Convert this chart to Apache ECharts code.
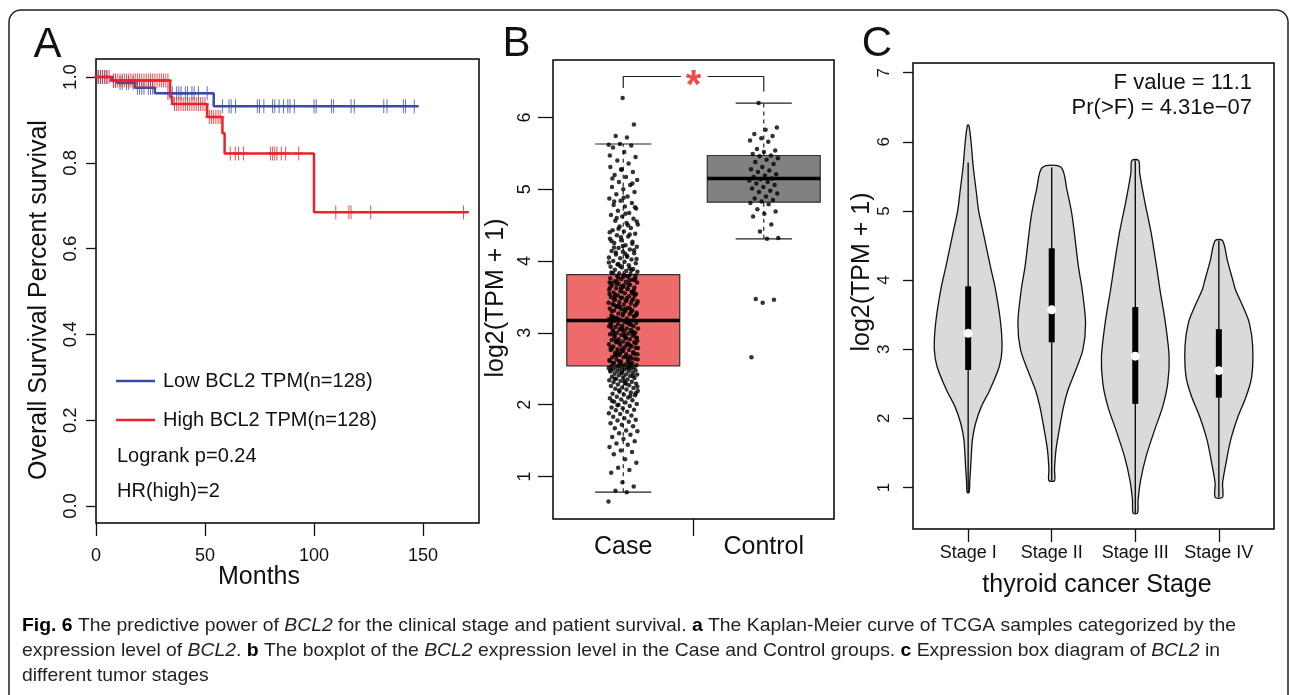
<!DOCTYPE html>
<html><head><meta charset="utf-8">
<script src="https://cdn.jsdelivr.net/npm/echarts@6/dist/echarts.min.js"></script>
<style>html,body{margin:0;padding:0;background:#fff}#c{width:1290px;height:695px}</style>
</head><body><div id="c"></div>
<script>
// ================= DATA =================
// Panel A : Kaplan-Meier (months, survival)
const kmLowSteps  = [[0,1.0],[7.5,0.991],[10,0.986],[18,0.975],[27,0.962],[54,0.932],[148,0.932]];
const kmHighSteps = [[0,1.0],[7,0.992],[34,0.954],[35,0.937],[51,0.907],[58,0.869],[59,0.822],[100,0.685],[171,0.685]];
const kmLowCensor  = [1,2,3,4,5,8,9,11,12,14,15,17,19,20,21,22,24,25,26,33,34,35,37,38,39,41,42,44,45,47,51,
                      58,61,62,64,74,75,77,81,82,84,86,88,89,91,100,101,108,109,117,118.5,132,133.5,141,142,146];
const kmHighCensor = [1,2,3,4,5,6,8,9,10,11,12,13,14,15,16,17,18,19,20,21,22,23,24,25,26,27,28,29,30,31,32,33,
                      36,37,38,39,40,41,42,43,44,45,46,47,48,49,50,52,53,54,55,56,57,
                      61.6,63.9,65.4,67.7,80,81,82,83,85,87,93,110,116,117,126,168.6];
const kmSeriesNames = ['Low BCL2 TPM(n=128)','High BCL2 TPM(n=128)'];
const kmStats = ['Logrank p=0.24','HR(high)=2'];
const kmXTicks = [0,50,100,150];
const kmYTicks = [0,0.2,0.4,0.6,0.8,1.0];

// Panel B : boxplot  [min, Q1, median, Q3, max]
const groupNames = ['Case','Control'];
const groupStats = [[0.78,2.54,3.17,3.81,5.63],[4.31,4.82,5.15,5.47,6.20]];
const caseValues = [
 0.65,0.78,0.80,0.86,0.92,1.05,1.09,1.12,1.19,1.24,1.31,1.34,1.36,1.41,1.44,1.46,1.49,1.52,1.55,1.58,
 1.60,1.63,1.64,1.67,1.70,1.72,1.74,1.76,1.78,1.79,1.81,1.83,1.85,1.87,1.88,1.90,1.92,1.93,1.95,1.96,
 1.98,2.00,2.01,2.03,2.04,2.06,2.07,2.09,2.10,2.11,2.13,2.14,2.15,2.17,2.18,2.19,2.21,2.22,2.23,2.24,
 2.26,2.27,2.28,2.29,2.30,2.31,2.32,2.33,2.34,2.35,2.36,2.37,2.38,2.39,2.40,2.41,2.42,2.42,2.43,2.44,
 2.45,2.46,2.46,2.47,2.48,2.49,2.49,2.50,2.50,2.51,2.51,2.52,2.52,2.53,2.53,2.54,2.54,
 2.55,2.56,2.58,2.58,2.60,2.61,2.61,2.63,2.64,2.66,2.66,2.67,2.69,2.70,2.70,2.72,2.73,2.74,2.76,2.76,
 2.77,2.79,2.80,2.81,2.81,2.83,2.84,2.85,2.87,2.87,2.88,2.90,2.91,2.91,2.93,2.94,2.95,2.96,2.97,2.98,
 2.99,3.00,3.00,3.02,3.03,3.04,3.05,3.06,3.06,3.08,3.09,3.10,3.11,3.12,3.12,3.14,3.15,3.16,3.17,2.57,
 2.62,2.65,2.68,2.71,2.75,2.78,2.82,2.86,2.89,2.92,2.96,3.01,3.07,3.13,2.59,2.74,2.85,2.97,3.03,3.11,
 3.18,3.19,3.20,3.21,3.23,3.24,3.24,3.26,3.27,3.28,3.30,3.31,3.31,3.33,3.34,3.35,3.37,3.38,3.39,3.40,
 3.41,3.43,3.44,3.45,3.46,3.47,3.49,3.50,3.51,3.52,3.54,3.55,3.56,3.57,3.58,3.60,3.61,3.62,3.63,3.65,
 3.66,3.67,3.68,3.70,3.71,3.72,3.74,3.75,3.76,3.78,3.79,3.80,3.81,3.22,3.29,3.36,3.42,3.48,3.53,3.59,
 3.64,3.69,3.73,3.77,3.25,3.32,3.46,3.57,3.62,3.70,3.79,3.36,3.52,3.66,3.21,
 3.82,3.83,3.85,3.86,3.88,3.89,3.91,3.92,3.94,3.95,3.97,3.99,4.00,4.02,4.04,4.05,4.07,4.09,4.11,4.13,
 4.14,4.16,4.18,4.20,4.22,4.25,4.27,4.29,4.31,4.34,4.36,4.38,4.41,4.43,4.46,4.48,4.51,4.53,4.56,4.59,
 4.62,4.64,4.67,4.70,4.73,4.76,4.78,4.81,4.84,4.87,4.90,4.93,4.96,5.00,5.03,5.06,5.10,5.13,5.17,5.20,
 5.24,5.27,5.31,5.36,5.40,5.45,5.52,5.58,5.61,5.63,5.62,5.72,5.74,5.90,6.27,3.84,3.90,3.96,4.03,4.10,
 4.19,4.24,4.33,4.40,4.50,4.60,4.75,4.88,5.15,
 2.56,2.60,2.63,2.67,2.69,2.72,2.77,2.80,2.84,2.88,2.93,2.95,2.99,3.02,3.05,3.09,3.14,3.19,3.23,3.27,
 3.30,3.34,3.38,3.41,3.44,3.50,3.55,3.58,3.63,3.67,3.72,3.76,3.80,2.58,2.64,2.71,2.79,2.83,2.90,2.98,
 3.04,3.08,3.16,3.20,3.26,3.33,3.39,3.45,3.49,3.54,3.61,3.68,3.74,3.78,
 2.05,2.12,2.20,2.25,2.29,2.36,2.40,2.44,2.48,2.51,1.99,2.16,2.33,3.83,3.87,3.93,3.98,4.06,4.12,4.15,
 4.21,4.28,4.37,4.45,4.55,4.66,4.83,5.08,5.28,5.47
];
const controlValues = [
 6.20,5.86,5.83,5.77,5.74,5.71,5.68,5.66,5.56,5.54,5.52,5.49,5.47,5.46,5.43,5.41,5.38,5.35,5.31,5.28,
 5.26,5.24,5.21,5.19,5.17,5.15,5.14,5.12,5.10,5.08,5.06,5.03,5.01,4.98,4.96,4.94,4.90,4.87,4.85,4.83,
 4.81,4.79,4.72,4.69,4.66,4.62,4.51,4.41,4.32,4.31,3.47,3.46,3.42,2.66
];
const boxYTicks = [1,2,3,4,5,6];
const sigLabel = '*';
const sigLevel = [6.41, 6.57, 6.36]; // left end, bar, right end

// Panel C : violin plots
const stageNames = ['Stage I','Stage II','Stage III','Stage IV'];
// [value, relative density]
const violinProfiles = [
 [[0.93,0.03],[1.06,0.045],[1.30,0.075],[1.69,0.125],[1.93,0.22],[2.17,0.39],[2.41,0.64],[2.75,0.92],[3.00,1.00],
  [3.38,0.96],[3.86,0.81],[4.19,0.66],[4.68,0.45],[5.00,0.31],[5.26,0.245],[5.64,0.15],[6.03,0.08],[6.24,0.02]],
 [[1.10,0.083],[1.26,0.083],[1.54,0.125],[1.83,0.22],[2.17,0.35],[2.41,0.48],[2.65,0.67],[2.99,0.92],[3.38,1.00],
  [3.86,0.90],[4.19,0.79],[4.68,0.67],[4.97,0.59],[5.30,0.45],[5.63,0.28]],
 [[0.63,0.065],[0.82,0.083],[1.11,0.16],[1.45,0.32],[1.83,0.57],[2.17,0.81],[2.51,0.96],[2.89,1.00],[3.38,0.89],
  [3.86,0.73],[4.19,0.63],[4.68,0.47],[5.16,0.27],[5.55,0.13],[5.73,0.10]],
 [[0.86,0.11],[1.06,0.11],[1.35,0.21],[1.69,0.35],[2.03,0.57],[2.32,0.81],[2.60,0.97],[3.04,1.00],[3.38,0.90],
  [3.62,0.71],[3.86,0.49],[3.95,0.44],[4.29,0.25],[4.57,0.11]]
];
const violinWhisker = [[0.93,5.70],[1.10,5.63],[0.63,5.73],[0.86,4.57]];
const violinBox = [[2.70,3.23,3.91],[3.10,3.57,4.46],[2.21,2.90,3.61],[2.30,2.69,3.29]]; // Q1, median, Q3
const violinYTicks = [1,2,3,4,5,6,7];
const anovaText = ['F value = 11.1','Pr(>F) = 4.31e\u221207'];

const captionLines = [
 [['b','Fig. 6'],['n',' The predictive power of '],['i','BCL2'],['n',' for the clinical stage and patient survival. '],['b','a'],['n',' The Kaplan-Meier curve of TCGA samples categorized by the']],
 [['n','expression level of '],['i','BCL2'],['n','. '],['b','b'],['n',' The boxplot of the '],['i','BCL2'],['n',' expression level in the Case and Control groups. '],['b','c'],['n',' Expression box diagram of '],['i','BCL2'],['n',' in']],
 [['n','different tumor stages']]
];

// ================= RENDER =================
const FONT = "'Liberation Sans', Arial, sans-serif";
const BLUE = '#3b4da0', RED = '#e8232b', INK = '#111';
const chart = echarts.init(document.getElementById('c'));

function survAt(steps, t) { let s = steps[0][1]; for (const p of steps) if (p[0] <= t) s = p[1]; return s; }
function jitter(i) { return (((i * 0.6180339887) % 1) - 0.5) * 0.21; }

function xAx(gi, min, max, ticks, labelTicks, fs, margin, tickLen, fmt) {
  return { type:'value', gridIndex:gi, min, max, axisLine:{show:false, onZero:false}, splitLine:{show:false},
    axisTick:{show:true, customValues:ticks, length:tickLen, lineStyle:{color:INK, width:1.3}},
    axisLabel:{customValues:labelTicks, fontSize:fs, fontFamily:FONT, color:INK, margin, formatter:fmt} };
}
function yAx(gi, min, max, ticks, fs, margin, tickLen, fmt) {
  return { type:'value', gridIndex:gi, min, max, axisLine:{show:false, onZero:false}, splitLine:{show:false},
    axisTick:{show:true, customValues:ticks, length:tickLen, lineStyle:{color:INK, width:1.3}},
    axisLabel:{customValues:ticks, fontSize:fs, fontFamily:FONT, color:INK, margin, rotate:90, formatter:fmt} };
}
const frame = { show:true, borderColor:'#000', borderWidth:1.5, backgroundColor:'rgba(0,0,0,0)' };

// caption scaling (condensed look)
const capFont = 19;
const mctx = document.createElement('canvas').getContext('2d');
function segWidth(kind, txt) {
  mctx.font = (kind==='b'?'bold ':'') + (kind==='i'?'italic ':'') + capFont + 'px ' + FONT;
  return mctx.measureText(txt).width;
}
const line1W = captionLines[0].reduce((s, [k, t]) => s + segWidth(k, t), 0);
const capScale = 1214 / line1W;
const capGraphics = captionLines.map((segs, li) => ({
  type:'text', x:22, y:626 + li*25, scaleX:capScale,
  style:{ text: segs.map(([k,t]) => '{' + k + '|' + t + '}').join(''), verticalAlign:'middle', align:'left',
    rich:{ n:{fontSize:capFont, fontFamily:FONT, fill:'#231f20'},
           i:{fontSize:capFont, fontFamily:FONT, fontStyle:'italic', fill:'#231f20'},
           b:{fontSize:capFont, fontFamily:FONT, fontWeight:'bold', fill:'#000'} } }
}));

function txt(x, y, s, fs, opt) {
  return Object.assign({ type:'text', x, y, style:{ text:s, fontSize:fs, fontFamily:FONT, fill:INK, align:'center', verticalAlign:'middle' } }, opt || {});
}
function ltxt(x, y, s, fs, align) {
  return { type:'text', x, y, style:{ text:s, fontSize:fs, fontFamily:FONT, fill:INK, align:align || 'left', verticalAlign:'middle' } };
}

const option = {
  animation:false,
  grid:[ Object.assign({left:96, top:59, width:383, height:464}, frame),
         Object.assign({left:553, top:60, width:281, height:459}, frame),
         Object.assign({left:913, top:63, width:361, height:466}, frame) ],
  xAxis:[
    xAx(0, 0, 175.7, kmXTicks, kmXTicks, 18, 24, 13),
    xAx(1, 0.5, 2.5, [1.5], [1,2], 25, 16, 17, v => groupNames[Math.round(v)-1]),
    xAx(2, 0.34, 4.66, [1,2,3,4], [1,2,3,4], 18, 15, 13, v => stageNames[Math.round(v)-1])
  ],
  yAxis:[
    yAx(0, -0.0396, 1.042, kmYTicks, 18.5, 16, 10, v => v.toFixed(1)),
    yAx(1, 0.407, 6.80, boxYTicks, 18, 19, 15, v => String(v)),
    yAx(2, 0.40, 7.14, violinYTicks, 17, 20, 10, v => String(v))
  ],
  series:[
    // ---- A ----
    { type:'line', xAxisIndex:0, yAxisIndex:0, name:kmSeriesNames[0], step:'end', data:kmLowSteps, symbol:'none',
      lineStyle:{color:BLUE, width:2.5}, silent:true, z:2 },
    { type:'scatter', xAxisIndex:0, yAxisIndex:0, data:kmLowCensor.map(t => [t, survAt(kmLowSteps, t)]),
      symbol:'path://M4,0L4,14M0,7L8,7', symbolSize:[8,14], itemStyle:{color:BLUE, borderColor:BLUE, borderWidth:1.3}, silent:true, z:2 },
    { type:'line', xAxisIndex:0, yAxisIndex:0, name:kmSeriesNames[1], step:'end', data:kmHighSteps, symbol:'none',
      lineStyle:{color:RED, width:2.5}, silent:true, z:3 },
    { type:'scatter', xAxisIndex:0, yAxisIndex:0, data:kmHighCensor.map(t => [t, survAt(kmHighSteps, t)]),
      symbol:'path://M4,0L4,14M0,7L8,7', symbolSize:[8,14], itemStyle:{color:RED, borderColor:RED, borderWidth:1.3}, silent:true, z:3 },
    // ---- B ----
    { type:'custom', xAxisIndex:1, yAxisIndex:1, data:groupStats.map((s, i) => [i+1].concat(s)), silent:true,
      renderItem:(params, api) => {
        const x = api.value(0), mn = api.value(1), q1 = api.value(2), md = api.value(3), q3 = api.value(4), mx = api.value(5);
        const fill = params.dataIndex === 0 ? '#ef6a6b' : '#818181';
        const P = (a, b) => api.coord([a, b]);
        const ln = (p1, p2, st) => ({ type:'line', shape:{x1:p1[0], y1:p1[1], x2:p2[0], y2:p2[1]}, style:Object.assign({stroke:'#222', lineWidth:1.2}, st||{}) });
        const tl = P(x-0.402, q3), br = P(x+0.402, q1);
        return { type:'group', children:[
          ln(P(x, mn), P(x, q1), {lineDash:[4,4]}),
          ln(P(x, q3), P(x, mx), {lineDash:[4,4]}),
          ln(P(x-0.2, mn), P(x+0.2, mn)),
          ln(P(x-0.2, mx), P(x+0.2, mx)),
          { type:'rect', shape:{x:tl[0], y:tl[1], width:br[0]-tl[0], height:br[1]-tl[1]}, style:{fill, stroke:'#333', lineWidth:1.2} },
          ln(P(x-0.402, md), P(x+0.402, md), {lineWidth:3.5, stroke:'#000'})
        ]};
      } },
    { type:'scatter', xAxisIndex:1, yAxisIndex:1, silent:true, symbolSize:4.5, itemStyle:{color:'#000'}, z:4,
      data: caseValues.map((v, i) => [1 + jitter(i), v]).concat(controlValues.map((v, i) => [2 + jitter(i+7), v])) },
    { type:'line', xAxisIndex:1, yAxisIndex:1, silent:true, symbol:'none', lineStyle:{color:'#222', width:1.2},
      data:[[1, sigLevel[0]],[1, sigLevel[1]],[1.41, sigLevel[1]]] },
    { type:'line', xAxisIndex:1, yAxisIndex:1, silent:true, symbol:'none', lineStyle:{color:'#222', width:1.2},
      data:[[1.6, sigLevel[1]],[2, sigLevel[1]],[2, sigLevel[2]]] },
    { type:'scatter', xAxisIndex:1, yAxisIndex:1, silent:true, symbolSize:0, data:[[1.5, sigLevel[1]]],
      label:{show:true, position:'inside', formatter:sigLabel, color:'#ee1c25', fontSize:40, fontWeight:'bold', fontFamily:FONT, offset:[0,10]} },
    // ---- C ----
    { type:'custom', xAxisIndex:2, yAxisIndex:2, data:stageNames.map((n, i) => [i+1]), silent:true,
      renderItem:(params, api) => {
        const i = params.dataIndex, pos = i + 1, VW = 0.405;
        const prof = violinProfiles[i];
        const pts = [];
        prof.forEach(([v, r]) => pts.push(api.coord([pos + r*VW, v])));
        for (let k = prof.length - 1; k >= 0; k--) pts.push(api.coord([pos - prof[k][1]*VW, prof[k][0]]));
        const w0 = api.coord([pos, violinWhisker[i][0]]), w1 = api.coord([pos, violinWhisker[i][1]]);
        const b0 = api.coord([pos, violinBox[i][0]]), bm = api.coord([pos, violinBox[i][1]]), b1 = api.coord([pos, violinBox[i][2]]);
        return { type:'group', children:[
          { type:'polygon', shape:{points:pts, smooth:0.3}, style:{fill:'#dadada', stroke:'#111', lineWidth:1.3} },
          { type:'line', shape:{x1:w0[0], y1:w0[1], x2:w1[0], y2:w1[1]}, style:{stroke:'#000', lineWidth:1.3} },
          { type:'rect', shape:{x:b1[0]-3, y:b1[1], width:6, height:b0[1]-b1[1]}, style:{fill:'#000'} },
          { type:'circle', shape:{cx:bm[0], cy:bm[1], r:4.5}, style:{fill:'#fff'} }
        ]};
      } }
  ],
  graphic:[
    { type:'rect', shape:{x:9, y:10, width:1279, height:720, r:12}, style:{fill:'none', stroke:'#222', lineWidth:1.5}, silent:true },
    txt(47.5, 45, 'A', 42), txt(516.5, 44, 'B', 42), txt(877, 44, 'C', 42),
    txt(39.5, 300, 'Overall Survival Percent survival', 25, {rotation:Math.PI/2}),
    txt(259, 577, 'Months', 25),
    txt(496, 298, 'log2(TPM + 1)', 25, {rotation:Math.PI/2}),
    txt(862, 272, 'log2(TPM + 1)', 25, {rotation:Math.PI/2}),
    txt(1097, 585, 'thyroid cancer Stage', 25),
    { type:'line', shape:{x1:116, y1:381, x2:155, y2:381}, style:{stroke:BLUE, lineWidth:2.5} },
    { type:'line', shape:{x1:116, y1:420, x2:155, y2:420}, style:{stroke:RED, lineWidth:2.5} },
    ltxt(163, 381, kmSeriesNames[0], 20),
    ltxt(163, 420, kmSeriesNames[1], 20),
    ltxt(117, 456, kmStats[0], 20),
    ltxt(117, 491, kmStats[1], 20),
    ltxt(1252, 83, anovaText[0], 22, 'right'),
    ltxt(1252, 108, anovaText[1], 22, 'right')
  ].concat(capGraphics)
};
chart.setOption(option);
</script></body></html>
